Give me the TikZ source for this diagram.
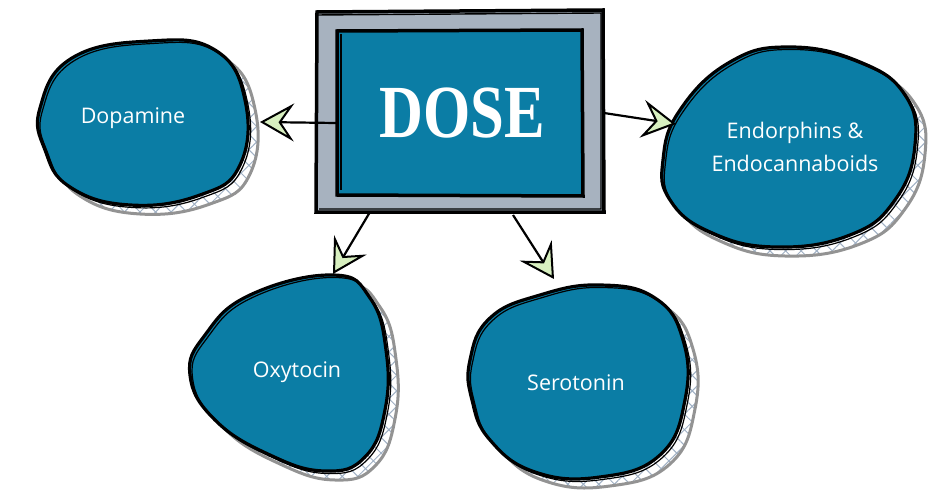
\documentclass[tikz,border=0pt]{standalone}
\usepackage{fontspec}
\setmainfont{Open Sans}
\newfontfamily\dosefont{Liberation Serif}
\usetikzlibrary{arrows.meta,patterns.meta}
\definecolor{doseblue}{HTML}{0B7DA5}
\definecolor{framegray}{HTML}{A7B2BF}
\definecolor{tipgreen}{HTML}{D8F0C0}
\definecolor{hatchc}{HTML}{9FB0C4}
\newcommand\myblob[1]{%
  \fill[white,shift={(10,9)}] plot[smooth cycle,tension=0.75] coordinates {#1};
  \fill[shift={(10,9)},pattern={Lines[angle=45,distance=11pt,line width=1pt]},pattern color=hatchc] plot[smooth cycle,tension=0.75] coordinates {#1};
  \fill[shift={(10,9)},pattern={Lines[angle=-45,distance=11pt,line width=1pt]},pattern color=hatchc] plot[smooth cycle,tension=0.75] coordinates {#1};
  \draw[shift={(10,9)},gray!85,line width=3pt] plot[smooth cycle,tension=0.75] coordinates {#1};
  \fill[doseblue] plot[smooth cycle,tension=0.75] coordinates {#1};
  \draw[black,line width=3.2pt] plot[smooth cycle,tension=0.75] coordinates {#1};
  \draw[black,line width=1.2pt,shift={(2.5,2.5)}] plot[smooth cycle,tension=0.75] coordinates {#1};
}
\tikzset{
  lbl/.style={text=white,font=\fontsize{21.5}{33}\selectfont,align=center},
  conn/.style={line width=2.2pt,-{Stealth[length=34pt,width=38pt,inset=13pt,fill=tipgreen,line width=2pt]}}
}
\begin{document}
\begin{tikzpicture}[x=1pt,y=-1pt]
\useasboundingbox (0,0) rectangle (945,492);
% blobs
\myblob{(40,108) (72,58) (150,41) (215,50) (245,100) (240,165) (200,195) (130,205) (70,187) (45,150)}
\myblob{(663,160) (680,110) (730,62) (790,47) (860,62) (905,95) (915,145) (895,200) (850,235) (775,247) (710,232) (670,200)}
\myblob{(333,275) (370,298) (386,350) (385,410) (365,457) (325,471) (270,455) (215,420) (190,375) (205,335) (250,295)}
\myblob{(470,360) (490,318) (540,295) (600,285) (655,298) (683,340) (685,400) (660,455) (600,477) (535,472) (490,440) (472,400)}
\node[lbl] (dopa) at (133,118) {Dopamine};
\node[lbl] (endo) at (795,147) {Endorphins \&\\Endocannaboids};
\node[lbl] (oxy) at (297,372) {Oxytocin};
\node[lbl] (sero) at (576,383) {Serotonin};
% DOSE frame
\draw[fill=framegray,line width=3.5pt] (317,12) -- (603,10) -- (604,212) -- (316,212) -- cycle;
\draw[line width=1.4pt] (315,15) -- (601,13) -- (601,209) -- (319,209);
\fill[doseblue] (337,30) rectangle (582,196);
\draw[line width=3.5pt] (337,31) -- (582,30) -- (583,196) -- (337,195) -- cycle;
\draw[line width=1.4pt] (341,34) -- (341,190);
\node[text=white,font=\dosefont\bfseries\fontsize{75}{75}\selectfont] (dose) at (462,113) {\scalebox{0.81}[1]{DOSE}};
% connector ends
\coordinate (l0) at (336,123);
\coordinate (l1) at (260,122);
\coordinate (r0) at (604,113);
\coordinate (r1) at (676,124);
\coordinate (o0) at (370,212);
\coordinate (o1) at (333,274);
\coordinate (s0) at (513,215);
\coordinate (s1) at (554,279);
\draw[conn] (l0) -- (l1);
\draw[conn] (r0) -- (r1);
\draw[conn] (o0) -- (o1);
\draw[conn] (s0) -- (s1);
\end{tikzpicture}
\end{document}
